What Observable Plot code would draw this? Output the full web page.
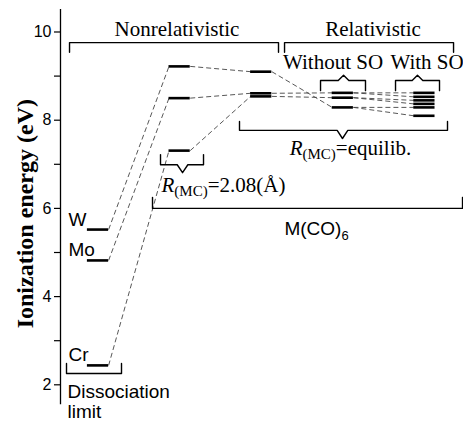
<!DOCTYPE html>
<html><head><meta charset="utf-8">
<script src="https://cdn.jsdelivr.net/npm/d3@7"></script>
<script src="https://cdn.jsdelivr.net/npm/@observablehq/plot@0.6"></script>
<style>body{margin:0;background:#fff}</style>
</head><body><div id="chart"></div>
<script>
// ---- data ----
const metals = ["Cr", "Mo", "W"];
const stages = ["Dissociation limit", "Nonrel. R(MC)=2.08 Å", "Nonrel. R(MC)=equilib.", "Rel. without SO", "Rel. with SO"];
const dissociationLimit = [2.44, 4.82, 5.52];
const nonrelR208 = [7.31, 8.50, 9.22];
const nonrelEquilib = [8.54, 8.61, 9.10];
const relWithoutSO = [8.51, 8.62, 8.29];
const relWithSO = [[8.45, 8.37], [8.62, 8.53], [8.29, 8.10]];
const yTicks = [2, 4, 6, 8, 10];
const yMinorTicks = [3, 5, 7, 9];

// ---- build tables ----
const levels = [];
const links = [];
metals.forEach((m, i) => {
  const seq = [dissociationLimit[i], nonrelR208[i], nonrelEquilib[i], relWithoutSO[i]];
  seq.forEach((e, s) => levels.push({metal: m, stage: s, e}));
  relWithSO[i].forEach(e => levels.push({metal: m, stage: 4, e}));
  for (let s = 0; s < 3; s++) links.push({s, e1: seq[s], e2: seq[s + 1]});
  relWithSO[i].forEach(e => links.push({s: 3, e1: seq[3], e2: e}));
});

// ---- layout (column units / eV) ----
const hw = 0.13;
const xDomain = [-0.4596, 4.479];
const yDomain = [1.508, 10.51];
const nh = 0.065;
function bracket(id, x1, x2, yBar, yTip, notch) {
  const pts = [{id, x: x1, y: yTip}, {id, x: x1, y: yBar}];
  if (notch) {
    pts.push({id, x: notch[0] - nh, y: yBar}, {id, x: notch[0], y: notch[1]}, {id, x: notch[0] + nh, y: yBar});
  }
  pts.push({id, x: x2, y: yBar}, {id, x: x2, y: yTip});
  return pts;
}
const brackets = [
  ...bracket("nonrel", -0.349, 2.212, 9.76, 9.54),
  ...bracket("rel", 2.286, 4.357, 9.76, 9.54),
  ...bracket("woso", 2.727, 3.278, 8.90, 8.67, [3.009, 9.02]),
  ...bracket("wso", 3.646, 4.185, 8.90, 8.67, [3.915, 9.02]),
  ...bracket("r208", 0.766, 1.293, 6.99, 7.22, [1.036, 6.81]),
  ...bracket("req", 1.734, 4.283, 7.77, 7.97, [2.996, 7.585]),
  ...bracket("mco", 0.668, 4.467, 6.00, 6.25),
  ...bracket("diss", -0.386, 0.288, 2.256, 2.483)
];
const serifCentered = [
  {t: "Nonrelativistic", x: 0.968, y: 9.92},
  {t: "Relativistic", x: 3.370, y: 9.92},
  {t: "Without SO", x: 2.880, y: 9.17},
  {t: "With SO", x: 4.032, y: 9.17},
  {t: "R(MC)=equilib.", x: 3.094, y: 7.20}
];
const serifStart = [
  {t: "R(MC)=2.08(Å)", x: 0.778, y: 6.383}
];
const sansCentered = [
  {t: "M(CO)6", x: 2.678, y: 5.408}
];
const sansStart = [
  {t: "Dissociation", x: -0.374, y: 1.712},
  {t: "limit", x: -0.374, y: 1.236}
];

const sans = "'Liberation Sans', Arial, sans-serif";
const serif = "'Liberation Serif', 'Times New Roman', serif";

const chart = Plot.plot({
  width: 463, height: 422,
  marginLeft: 60, marginRight: 0, marginTop: 9, marginBottom: 16,
  style: {fontFamily: sans, background: "#fff", color: "#000", overflow: "visible"},
  x: {domain: xDomain, axis: null},
  y: {domain: yDomain, label: null},
  marks: [
    Plot.ruleX([xDomain[0]], {y1: 1.55, y2: yDomain[1], stroke: "#000", strokeWidth: 1.3}),
    Plot.axisY(yTicks, {tickSize: 6, tickPadding: 3, fontSize: 16, stroke: "#000", strokeWidth: 1.2, fill: "#000"}),
    Plot.axisY(yMinorTicks, {tickSize: 6, tickFormat: () => "", stroke: "#000", strokeWidth: 1.2}),
    Plot.link(links, {x1: d => d.s + hw, y1: "e1", x2: d => d.s + 1 - hw, y2: "e2", stroke: "#444", strokeWidth: 0.9, strokeDasharray: "5,3"}),
    Plot.ruleY(levels, {x1: d => d.stage - hw, x2: d => d.stage + hw, y: "e", stroke: "#000", strokeWidth: 2.6}),
    Plot.line(brackets, {x: "x", y: "y", z: "id", stroke: "#000", strokeWidth: 1.4, curve: "linear"}),
    Plot.text(serifCentered, {x: "x", y: "y", text: "t", textAnchor: "middle", lineAnchor: "bottom", fontFamily: serif, fontSize: 21, fill: "#000"}),
    Plot.text(serifStart, {x: "x", y: "y", text: "t", textAnchor: "start", lineAnchor: "bottom", fontFamily: serif, fontSize: 21, fill: "#000"}),
    Plot.text(sansCentered, {x: "x", y: "y", text: "t", textAnchor: "middle", lineAnchor: "bottom", fontFamily: sans, fontSize: 19, fill: "#000"}),
    Plot.text(sansStart, {x: "x", y: "y", text: "t", textAnchor: "start", lineAnchor: "bottom", fontFamily: sans, fontSize: 19, fill: "#000"}),
    Plot.text(metals.map((m, i) => ({m, e: dissociationLimit[i]})), {x: -0.362, y: "e", dy: -4, text: "m", textAnchor: "start", lineAnchor: "bottom", fontFamily: sans, fontSize: 19, fill: "#000"}),
    Plot.text(["Ionization energy (eV)"], {x: -0.888, y: 5.88, text: d => d, rotate: -90, fontFamily: serif, fontWeight: "bold", fontSize: 24, fill: "#000"})
  ]
});
document.getElementById("chart").appendChild(chart);

// rich text (italic R, subscripts)
chart.querySelectorAll("text").forEach(el => {
  const s = el.textContent;
  if (s === "R(MC)=2.08(Å)") {
    el.innerHTML = '<tspan font-style="italic">R</tspan><tspan font-size="15" dy="4">(MC)</tspan><tspan dy="-4">=2.08(Å)</tspan>';
  } else if (s === "R(MC)=equilib.") {
    el.innerHTML = '<tspan font-style="italic">R</tspan><tspan font-size="15" dy="4">(MC)</tspan><tspan dy="-4">=equilib.</tspan>';
  } else if (s === "M(CO)6") {
    el.innerHTML = 'M(CO)<tspan font-size="13" dy="5">6</tspan>';
  }
});
</script>
</body></html>
